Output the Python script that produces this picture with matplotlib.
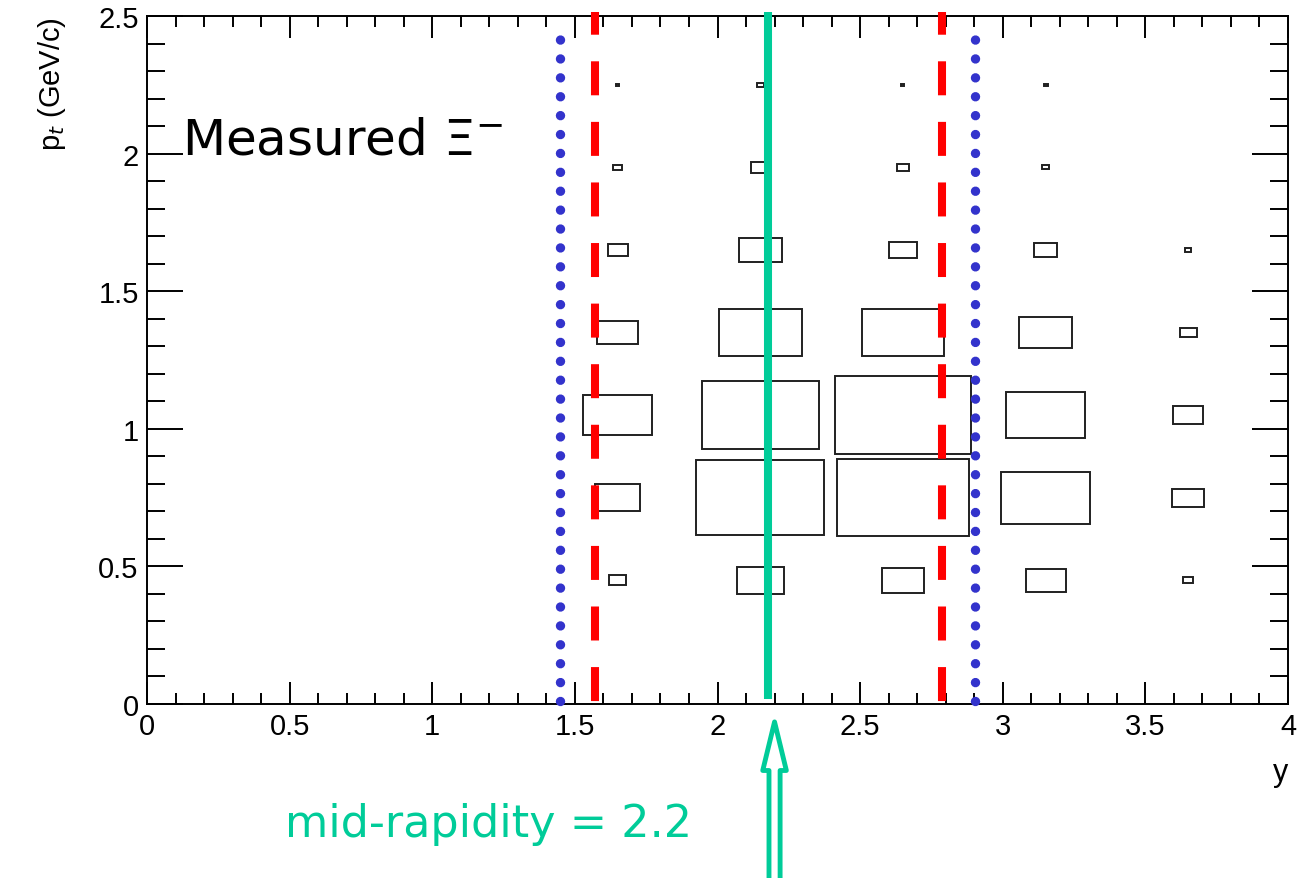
import matplotlib
matplotlib.use("Agg")
import matplotlib.pyplot as plt
from matplotlib.patches import Rectangle
from matplotlib.ticker import MultipleLocator, FuncFormatter

# --------------------------------------------------
# Data: box sizes (fraction of bin size) per rapidity bin
# --------------------------------------------------
y_centers = [1.65, 2.15, 2.65, 3.15, 3.65]
pt_centers = [0.45, 0.75, 1.05, 1.35, 1.65, 1.95, 2.25]
y_binw = 0.5
pt_binw = 0.3

box_y165 = [0.12, 0.32, 0.48, 0.29, 0.14, 0.063, 0.02]
box_y215 = [0.33, 0.90, 0.82, 0.58, 0.30, 0.13, 0.047]
box_y265 = [0.30, 0.93, 0.95, 0.57, 0.20, 0.089, 0.02]
box_y315 = [0.28, 0.63, 0.56, 0.37, 0.16, 0.051, 0.028]
box_y365 = [0.07, 0.22, 0.21, 0.12, 0.04, 0.0, 0.0]
box_sizes = [box_y165, box_y215, box_y265, box_y315, box_y365]

# acceptance / reference lines
blue_lines = [1.448, 2.903]
red_lines = [1.571, 2.787]
green_line = 2.177
mid_rapidity = 2.2

green = "#00cc99"
blue = "#3333cc"

# --------------------------------------------------
# Figure
# --------------------------------------------------
plt.rcParams['font.family'] = ['Liberation Sans', 'DejaVu Sans']
fig = plt.figure(figsize=(13.1, 8.79), dpi=100)
ax = fig.add_axes([147 / 1310, 174 / 879, 1141 / 1310, 688 / 879])
ax.set_xlim(0, 4)
ax.set_ylim(0, 2.5)

# boxes
for yc, sizes in zip(y_centers, box_sizes):
    for ptc, s in zip(pt_centers, sizes):
        if s <= 0:
            continue
        w = s * y_binw
        h = s * pt_binw
        ax.add_patch(Rectangle((yc - w / 2, ptc - h / 2), w, h,
                               facecolor='none', edgecolor='#202020', linewidth=1.4, zorder=2))

# blue dotted lines
for xv in blue_lines:
    ax.plot([xv, xv], [0.011, 2.475], color=blue, linewidth=6.8,
            linestyle=(0, (0.001, 2.0)), dash_capstyle='round', zorder=3, clip_on=False)

# red dashed lines
for xv in red_lines:
    ax.plot([xv, xv], [2.515, 0.008], color='red', linewidth=5.8,
            linestyle=(1.4, (4.22, 3.30)), dash_capstyle='butt', zorder=4, clip_on=False)

# green solid line
ax.plot([green_line, green_line], [0.018, 2.515], color=green, linewidth=5.8,
        solid_capstyle='butt', zorder=5, clip_on=False)

# hollow arrow below axis
ax.annotate('', xy=(mid_rapidity, -0.065), xytext=(mid_rapidity, -0.70),
            arrowprops=dict(arrowstyle='simple,head_width=17,head_length=35,tail_width=8',
                            mutation_scale=1, facecolor='white', edgecolor=green,
                            linewidth=3.5, shrinkA=0, shrinkB=0),
            annotation_clip=False)

# texts
ax.text(0.123, 2.002, r'Measured $\Xi^{-}$', fontsize=36, color='black',
        family='DejaVu Sans', va='baseline', ha='left')
fig.text(285 / 1310, (879 - 837) / 879, 'mid-rapidity = 2.2', fontsize=32, color=green,
         family=['Liberation Sans Narrow', 'DejaVu Sans'], va='baseline', ha='left')

# --------------------------------------------------
# Axes styling (ROOT-like)
# --------------------------------------------------
ax.xaxis.set_major_locator(MultipleLocator(0.5))
ax.xaxis.set_minor_locator(MultipleLocator(0.1))
ax.yaxis.set_major_locator(MultipleLocator(0.5))
ax.yaxis.set_minor_locator(MultipleLocator(0.1))
ax.xaxis.set_major_formatter(FuncFormatter(lambda v, p: f"{v:g}"))
ax.yaxis.set_major_formatter(FuncFormatter(lambda v, p: f"{v:g}"))

ax.tick_params(axis='x', which='major', direction='in', length=15.8, width=1.4,
               top=True, labelsize=21, pad=6)
ax.tick_params(axis='x', which='minor', direction='in', length=7.9, width=1.4, top=True)
ax.tick_params(axis='y', which='major', direction='in', length=26, width=1.4,
               right=True, labelsize=21, pad=6)
ax.tick_params(axis='y', which='minor', direction='in', length=13, width=1.4, right=True)
for sp in ax.spines.values():
    sp.set_linewidth(1.4)

ax.set_xlabel('y', fontsize=22, loc='right', labelpad=12)
ax.set_ylabel(r'p$_{t}$ (GeV/c)', fontsize=21, loc='top', labelpad=22)

fig.savefig('out.png', dpi=100)
